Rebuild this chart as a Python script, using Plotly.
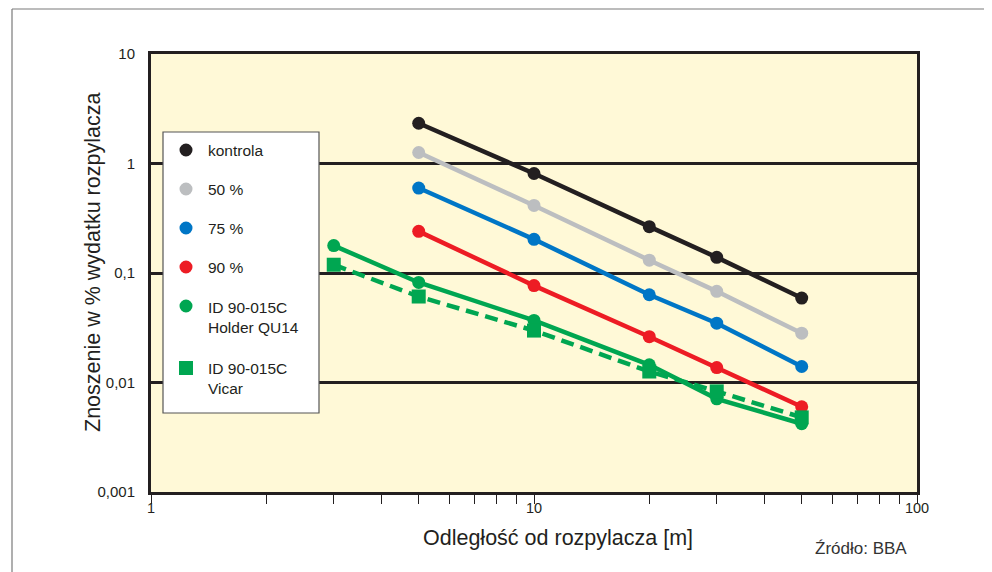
import plotly.graph_objects as go

# ---- data ----
dist_main = [5, 10, 20, 30, 50]
dist_green = [3, 5, 10, 20, 30, 50]

kontrola = [2.33, 0.81, 0.265, 0.139, 0.059]
p50 = [1.26, 0.414, 0.131, 0.068, 0.0282]
p75 = [0.597, 0.203, 0.0633, 0.0348, 0.0140]
p90 = [0.240, 0.0767, 0.0262, 0.0137, 0.0060]
holder = [0.178, 0.082, 0.0369, 0.0145, 0.0071, 0.0042]
vicar = [0.119, 0.061, 0.0298, 0.0126, 0.0083, 0.0048]

series_names = ["kontrola", "50 %", "75 %", "90 %",
                "ID 90-015C<br>Holder QU14", "ID 90-015C<br>Vicar"]

y_tickvals = [0.001, 0.01, 0.1, 1, 10]
y_ticktext = ["0,001", "0,01", "0,1", "1", "10"]
x_tickvals = [1, 2, 3, 4, 5, 6, 7, 8, 9, 10, 20, 30, 40, 50, 60, 70, 80, 90, 100]
x_ticktext = ["1", "", "", "", "", "", "", "", "", "10", "", "", "", "", "", "", "", "", "100"]

x_title = "Odległość od rozpylacza [m]"
y_title = "Znoszenie w % wydatku rozpylacza"
source = "Źródło: BBA"

BLACK = "#231F20"
GRAY = "#BCBEC0"
BLUE = "#0076C6"
RED = "#ED1C24"
GREEN = "#00A651"
BG = "#FFF9D7"
FONT = "Liberation Sans, Arial, Helvetica, sans-serif"

fig = go.Figure()

def add_line(x, y, color, name, symbol="circle", dash="solid", size=13):
    fig.add_trace(go.Scatter(
        x=x, y=y, mode="lines+markers", name=name,
        line=dict(color=color, width=4.5, dash=dash),
        marker=dict(color=color, size=size, symbol=symbol, line=dict(width=0)),
        showlegend=False))

add_line(dist_main, kontrola, BLACK, series_names[0])
add_line(dist_main, p50, GRAY, series_names[1])
add_line(dist_main, p75, BLUE, series_names[2])
add_line(dist_main, p90, RED, series_names[3])
add_line(dist_green, holder, GREEN, series_names[4])
add_line(dist_green, vicar, GREEN, series_names[5], symbol="square", dash="13px,7px", size=14)

# page offset (browser body margin) and plot area in screen pixels
OFF = 8
L, R, T, B = 151, 917, 54, 492
W, H = 992 - OFF, 572 - OFF
def px(x):
    return (x - L) / (R - L)
def py(y):
    return (B - y) / (B - T)

shapes = []
annotations = []

# legend box
shapes.append(dict(type="rect", xref="paper", yref="paper",
                   x0=px(163), x1=px(319), y0=py(413), y1=py(132),
                   line=dict(color="#555555", width=1.2), fillcolor="white", layer="above"))
legend_colors = [BLACK, GRAY, BLUE, RED, GREEN, GREEN]
legend_sym = ["circle", "circle", "circle", "circle", "circle", "square"]
marker_y = [150, 189, 228, 267, 306, 368]
text_y = [150, 189, 228, 267, 317.5, 378.5]
for name, col, sym, my, ty in zip(series_names, legend_colors, legend_sym, marker_y, text_y):
    half = 6.5 if sym == "circle" else 7
    shapes.append(dict(type="circle" if sym == "circle" else "rect",
                       xref="paper", yref="paper", xsizemode="pixel", ysizemode="pixel",
                       xanchor=px(186), yanchor=py(my),
                       x0=-half, x1=half, y0=-half, y1=half,
                       fillcolor=col, line=dict(width=0), layer="above"))
    annotations.append(dict(xref="paper", yref="paper", x=px(206), y=py(ty),
                            xanchor="left", yanchor="middle", showarrow=False,
                            text=name, align="left",
                            font=dict(family=FONT, size=15.5, color=BLACK)))

# outer thin frame: only top and left edges are visible
frame = dict(color="#7a7a7a", width=1.2)
shapes.append(dict(type="line", xref="paper", yref="paper",
                   x0=px(12), x1=px(1000), y0=py(9), y1=py(9), line=frame, layer="below"))
shapes.append(dict(type="line", xref="paper", yref="paper",
                   x0=px(12), x1=px(12), y0=py(9), y1=py(580), line=frame, layer="below"))

annotations.append(dict(xref="paper", yref="paper", x=px(93), y=py(263),
                        xanchor="center", yanchor="middle", textangle=-90, showarrow=False,
                        text=y_title, font=dict(family=FONT, size=21.5, color=BLACK)))
annotations.append(dict(xref="paper", yref="paper", x=px(558), y=py(538),
                        xanchor="center", yanchor="middle", showarrow=False,
                        text=x_title, font=dict(family=FONT, size=21.5, color=BLACK)))
annotations.append(dict(xref="paper", yref="paper", x=px(813), y=py(548),
                        xanchor="left", yanchor="middle", showarrow=False,
                        text=source, font=dict(family=FONT, size=17, color="#333333")))

fig.update_layout(
    width=W, height=H,
    margin=dict(l=L - OFF, r=W - (R - OFF), t=T - OFF, b=H - (B - OFF), pad=0),
    paper_bgcolor="white", plot_bgcolor=BG,
    font=dict(family=FONT, color=BLACK),
    shapes=shapes, annotations=annotations,
    showlegend=False,
)
fig.update_xaxes(
    type="log", range=[0, 2],
    tickvals=x_tickvals, ticktext=x_ticktext,
    ticks="outside", ticklen=9, tickwidth=1.3, tickcolor=BLACK,
    ticklabelstandoff=-8,
    tickfont=dict(family=FONT, size=14.5, color=BLACK),
    showgrid=False, zeroline=False,
    showline=True, linecolor=BLACK, linewidth=3, mirror=True,
)
fig.update_yaxes(
    type="log", range=[-3, 1],
    tickvals=y_tickvals, ticktext=y_ticktext,
    ticks="", ticklabelstandoff=10,
    tickfont=dict(family=FONT, size=15, color=BLACK),
    showgrid=True, gridcolor=BLACK, gridwidth=2.5, zeroline=False,
    showline=True, linecolor=BLACK, linewidth=3, mirror=True,
)

fig.write_html("out.html")
